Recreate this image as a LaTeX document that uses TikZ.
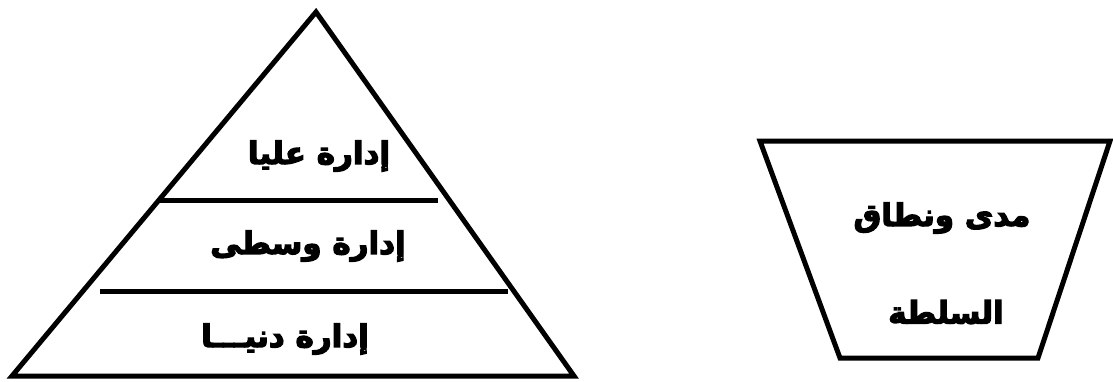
\documentclass[tikz,border=0pt]{standalone}
\usepackage{fontspec}
\newfontfamily\arabicfont[Script=Arabic, BoldFeatures={FakeBold=4}]{DejaVu Sans}
\TeXXeTstate=1
\begin{document}
\begin{tikzpicture}[x=1pt,y=-1pt,
  shapeline/.style={line width=5pt, line join=miter},
  lbl/.style={font=\arabicfont\bfseries\fontsize{31}{36}\selectfont, inner sep=0pt}]
\useasboundingbox (0,0) rectangle (1113,381);
% pyramid
\coordinate (apex) at (316,12);
\coordinate (bl) at (12,376);
\coordinate (br) at (574,376);
\draw[shapeline] (apex) -- (bl) -- (br) -- cycle;
\coordinate (l1a) at (160,200);
\coordinate (l1b) at (438,200);
\coordinate (l2a) at (100,291);
\coordinate (l2b) at (508,291);
\draw[shapeline] (l1a) -- (l1b);
\draw[shapeline] (l2a) -- (l2b);
\node[lbl] (top) at (319,156) {\beginR إدارة عليا\endR};
\node[lbl] (mid) at (308,246) {\beginR إدارة  وسطى\endR};
\node[lbl] (low) at (285,339) {\beginR إدارة دنيـــا\endR};
% trapezoid
\coordinate (tl) at (760,141);
\coordinate (tr) at (1110,141);
\coordinate (rb) at (1038,358);
\coordinate (lb) at (840,358);
\draw[shapeline] (tl) -- (tr) -- (rb) -- (lb) -- cycle;
\node[lbl] (scope1) at (942,218) {\beginR مدى ونطاق\endR};
\node[lbl] (scope2) at (946,312) {\beginR السلطة\endR};
\end{tikzpicture}
\end{document}
